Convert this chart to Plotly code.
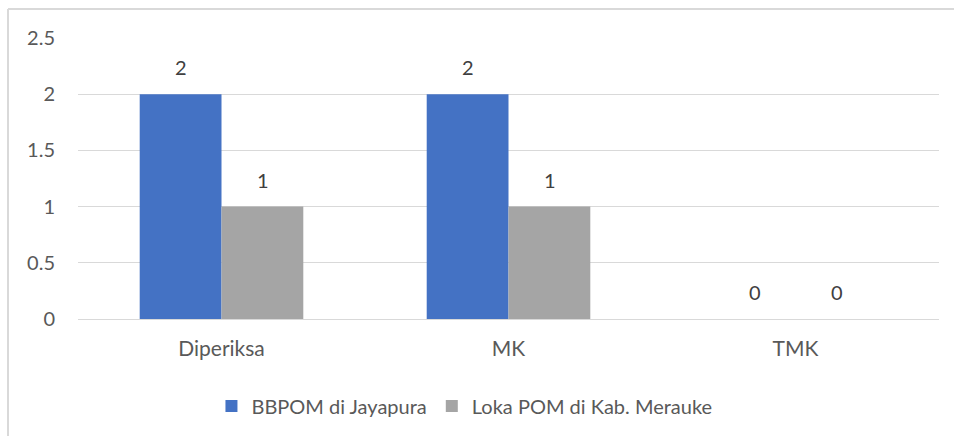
import plotly.graph_objects as go

categories = ["Diperiksa", "MK", "TMK"]
series_names = ["BBPOM di Jayapura", "Loka POM di Kab. Merauke"]
bbpom_values = [2, 2, 0]
loka_values = [1, 1, 0]
y_ticks = [0, 0.5, 1, 1.5, 2, 2.5]
y_tick_labels = ["0", "0.5", "1", "1.5", "2", "2.5"]

colors = ["#4472C4", "#A5A5A5"]
FONT = "Lato, 'Open Sans', sans-serif"
TXT = "#595959"
FS = 20

fig = go.Figure()
for name, vals, col in zip(series_names, [bbpom_values, loka_values], colors):
    fig.add_trace(go.Bar(x=categories, y=vals, name=name, marker=dict(color=col, line=dict(width=0))))

# data labels
shift = 41
for vals, xs in zip([bbpom_values, loka_values], [-shift, shift]):
    for c, v in zip(categories, vals):
        fig.add_annotation(x=c, y=v, xref="x", yref="y", text=str(v), showarrow=False,
                           xshift=xs, yshift=13, yanchor="bottom",
                           font=dict(family=FONT, size=FS, color="#404040"))

# chart border (partially cropped)
fig.add_shape(type="line", xref="paper", yref="paper", x0=-0.0813, x1=1.2, y0=1.103, y1=1.103,
              line=dict(color="#D9D9D9", width=2))
fig.add_shape(type="line", xref="paper", yref="paper", x0=-0.0813, x1=-0.0813, y0=1.103, y1=-0.5,
              line=dict(color="#D9D9D9", width=2))

fig.update_layout(
    width=954, height=436,
    margin=dict(l=78, r=15, t=38, b=116),
    paper_bgcolor="white", plot_bgcolor="white",
    barmode="group", bargap=0.43, bargroupgap=0,
    font=dict(family=FONT, size=FS, color=TXT),
    showlegend=True,
    legend=dict(orientation="h", x=0.155, xanchor="left", y=-0.305, yanchor="middle",
                font=dict(family=FONT, size=FS, color=TXT), traceorder="normal"),
    xaxis=dict(showgrid=False, showline=False, ticks="", ticklabelstandoff=15,
               tickfont=dict(family=FONT, size=21, color=TXT)),
    yaxis=dict(range=[0, 2.5], tickvals=y_ticks, ticktext=y_tick_labels,
               showgrid=True, gridcolor="#D9D9D9", gridwidth=1,
               zeroline=True, zerolinecolor="#D9D9D9", zerolinewidth=1,
               showline=False, ticks="", ticklabelstandoff=22,
               tickfont=dict(family=FONT, size=FS, color=TXT)),
)

fig.write_html("out.html", config={"displayModeBar": False},
               post_script="document.body.style.margin='0';document.body.style.overflow='hidden';")
